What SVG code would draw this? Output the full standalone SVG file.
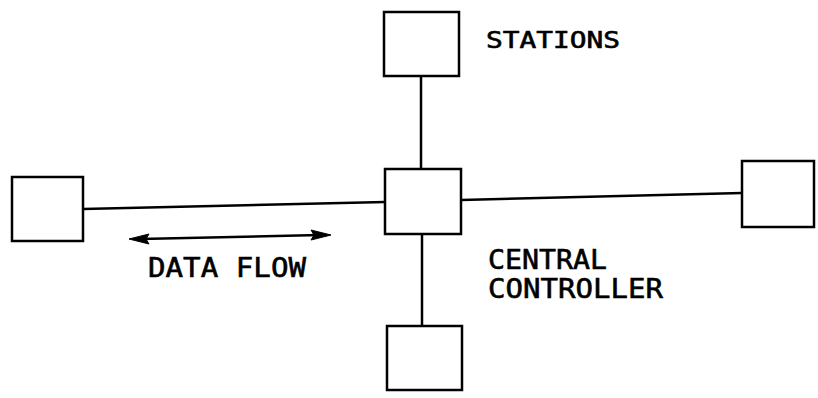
<svg xmlns="http://www.w3.org/2000/svg" width="818" height="398" viewBox="0 0 818 398">
<style>
.box{fill:none;stroke:#000;stroke-width:2.5}
.ln{stroke:#000;stroke-width:2.5;fill:none}
.ah{fill:#000;stroke:#000;stroke-width:1}
.t{font-family:"DejaVu Sans Mono","Liberation Mono",monospace;font-size:27px;fill:#000;stroke:#000;stroke-width:0.6}
</style>
<rect width="818" height="398" fill="#fff"/>
<g id="connectors">
<line class="ln" x1="421" y1="76" x2="421" y2="169"/>
<line class="ln" x1="83" y1="209" x2="385" y2="202"/>
<line class="ln" x1="461" y1="200" x2="742" y2="193"/>
<line class="ln" x1="422" y1="234" x2="422" y2="326"/>
</g>
<g id="arrow">
<line class="ln" x1="140" y1="239" x2="320" y2="235"/>
<polygon class="ah" points="129,239 149,234 146,239 149,244"/>
<polygon class="ah" points="331,235 311,230 314,235 311,240"/>
</g>
<g id="station-top"><rect class="box" x="384" y="12" width="75" height="64"/></g>
<g id="station-left"><rect class="box" x="12" y="177" width="71" height="64"/></g>
<g id="central"><rect class="box" x="385" y="169" width="76" height="65"/></g>
<g id="station-right"><rect class="box" x="742" y="161" width="72" height="66"/></g>
<g id="station-bottom"><rect class="box" x="387" y="326" width="75" height="64"/></g>
<g id="labels">
<text class="t" x="486" y="48" textLength="134" lengthAdjust="spacingAndGlyphs" style="font-size:23px">STATIONS</text>
<text class="t" x="148" y="277" textLength="158" lengthAdjust="spacingAndGlyphs">DATA FLOW</text>
<text class="t" x="488" y="269" textLength="119" lengthAdjust="spacingAndGlyphs">CENTRAL</text>
<text class="t" x="488" y="298" textLength="175" lengthAdjust="spacingAndGlyphs">CONTROLLER</text>
</g>
</svg>
